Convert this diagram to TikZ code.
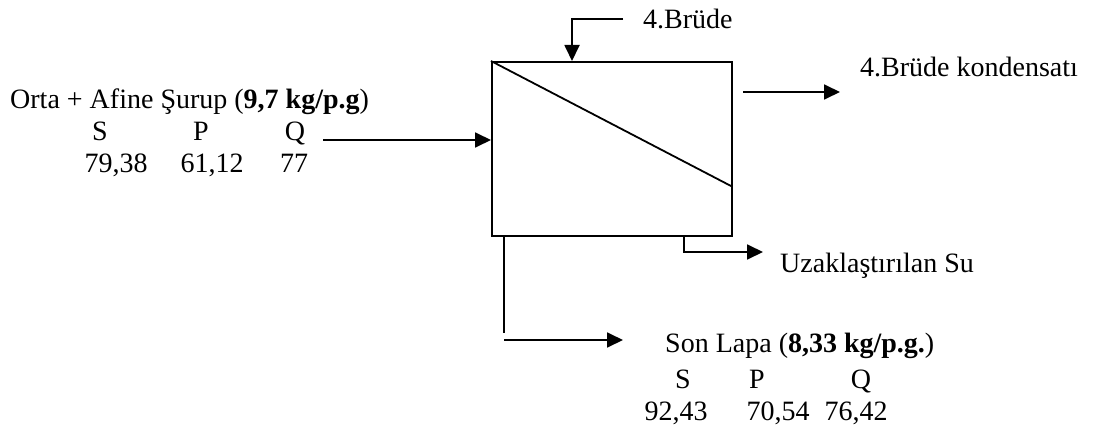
\documentclass[tikz,border=0pt]{standalone}
\usepackage{fontspec}
\setmainfont{Liberation Serif}
\usetikzlibrary{arrows.meta}
\begin{document}
\begin{tikzpicture}[x=1pt,y=-1pt,
  line/.style={line width=1.8pt},
  flow/.style={line width=1.8pt,-{Triangle[length=16pt,width=15pt]}},
  lbl/.style={inner sep=0pt,anchor=base west,font=\fontsize{28}{32}\selectfont},
  col/.style={inner sep=0pt,anchor=base,font=\fontsize{28}{32}\selectfont}]
\useasboundingbox (0,0) rectangle (1099,428);
% vessel
\node[draw,line width=1.8pt,minimum width=240pt,minimum height=174pt,inner sep=0pt,anchor=north west] (box) at (491,61) {};
\coordinate (diagend) at (731,186);
\draw[line] (box.north west) -- (diagend);
% top input
\node[lbl] (brude) at (643,29) {4.Brüde};
\coordinate (t1) at (623,19);
\coordinate (t2) at (572,19);
\coordinate (t3) at (572,61);
\draw[flow] (t1) -- (t2) -- (t3);
% right output
\node[lbl] (kond) at (860,77) {4.Brüde kondensatı};
\coordinate (r1) at (743,92);
\coordinate (r2) at (840,92);
\draw[flow] (r1) -- (r2);
% left input
\node[lbl] (orta) at (10,108) {Orta + Afine Şurup (\textbf{9,7 kg/p.g})};
\node[col] (ls) at (100,140) {S};
\node[col] (lp) at (201,140) {P};
\node[col] (lq) at (295,140) {Q};
\node[col] (lsv) at (116,172) {79,38};
\node[col] (lpv) at (212,172) {61,12};
\node[col] (lqv) at (294,172) {77};
\coordinate (l1) at (323,140);
\draw[flow] (l1) -- (box.west |- l1);
% water removed
\coordinate (w1) at (684,235);
\coordinate (w2) at (684,252);
\coordinate (w3) at (763,252);
\draw[flow] (w1) -- (w2) -- (w3);
\node[lbl] (su) at (780,272) {Uzaklaştırılan Su};
% bottom output
\coordinate (b1) at (504,235);
\coordinate (b2) at (504,333);
\draw[line] (b1) -- (b2);
\coordinate (b3) at (504,340);
\coordinate (b4) at (623,340);
\draw[flow] (b3) -- (b4);
\node[lbl] (son) at (665,352) {Son Lapa (\textbf{8,33 kg/p.g.})};
\node[col] (bs) at (683,388) {S};
\node[col] (bp) at (757,388) {P};
\node[col] (bq) at (861,388) {Q};
\node[col] (bsv) at (676,420) {92,43};
\node[col] (bpv) at (778,420) {70,54};
\node[col] (bqv) at (856,420) {76,42};
\end{tikzpicture}
\end{document}
